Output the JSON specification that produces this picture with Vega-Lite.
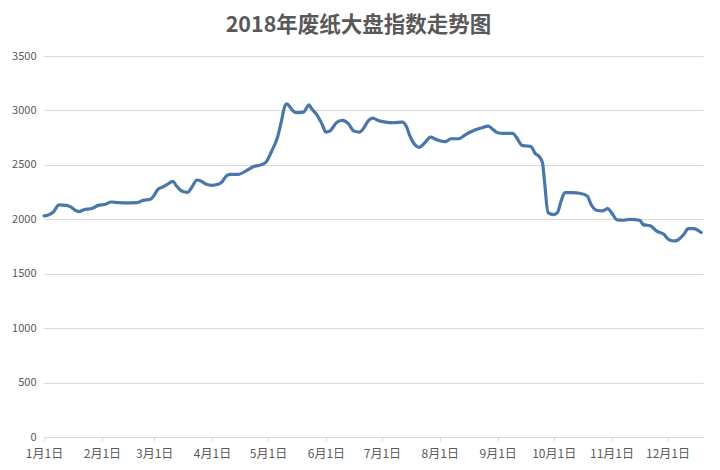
{
  "$schema": "https://vega.github.io/schema/vega-lite/v6.json",
  "width": 659,
  "height": 381,
  "autosize": {"type": "none"},
  "padding": {"left": 44, "top": 56, "right": 17, "bottom": 33},
  "background": "white",
  "title": {
    "text": "2018年废纸大盘指数走势图",
    "font": "Noto Sans CJK SC",
    "fontSize": 21.5,
    "fontWeight": "bold",
    "color": "#595959",
    "anchor": "middle",
    "dx": -15,
    "offset": 14
  },
  "config": {
    "view": {"stroke": null},
    "axis": {"labelFont": "Noto Sans CJK SC", "labelColor": "#595959", "gridColor": "#d9d9d9", "gridWidth": 1}
  },
  "data": {
    "values": [
      {"date": "2018-01-01", "index": 2031},
      {"date": "2018-01-03", "index": 2037},
      {"date": "2018-01-06", "index": 2067},
      {"date": "2018-01-09", "index": 2132},
      {"date": "2018-01-13", "index": 2128},
      {"date": "2018-01-15", "index": 2116},
      {"date": "2018-01-18", "index": 2080},
      {"date": "2018-01-20", "index": 2070},
      {"date": "2018-01-22", "index": 2086},
      {"date": "2018-01-27", "index": 2101},
      {"date": "2018-01-30", "index": 2128},
      {"date": "2018-02-03", "index": 2138},
      {"date": "2018-02-06", "index": 2159},
      {"date": "2018-02-10", "index": 2153},
      {"date": "2018-02-14", "index": 2150},
      {"date": "2018-02-20", "index": 2153},
      {"date": "2018-02-23", "index": 2174},
      {"date": "2018-02-27", "index": 2184},
      {"date": "2018-03-01", "index": 2220},
      {"date": "2018-03-03", "index": 2275},
      {"date": "2018-03-06", "index": 2300},
      {"date": "2018-03-08", "index": 2321},
      {"date": "2018-03-11", "index": 2349},
      {"date": "2018-03-13", "index": 2306},
      {"date": "2018-03-16", "index": 2257},
      {"date": "2018-03-19", "index": 2248},
      {"date": "2018-03-21", "index": 2290},
      {"date": "2018-03-24", "index": 2361},
      {"date": "2018-03-26", "index": 2352},
      {"date": "2018-03-29", "index": 2321},
      {"date": "2018-04-01", "index": 2312},
      {"date": "2018-04-04", "index": 2321},
      {"date": "2018-04-06", "index": 2337},
      {"date": "2018-04-09", "index": 2404},
      {"date": "2018-04-11", "index": 2413},
      {"date": "2018-04-15", "index": 2413},
      {"date": "2018-04-20", "index": 2453},
      {"date": "2018-04-23", "index": 2483},
      {"date": "2018-04-28", "index": 2505},
      {"date": "2018-04-30", "index": 2526},
      {"date": "2018-05-03", "index": 2627},
      {"date": "2018-05-05", "index": 2703},
      {"date": "2018-05-06", "index": 2749},
      {"date": "2018-05-08", "index": 2887},
      {"date": "2018-05-10", "index": 3040},
      {"date": "2018-05-11", "index": 3061},
      {"date": "2018-05-14", "index": 3003},
      {"date": "2018-05-16", "index": 2979},
      {"date": "2018-05-20", "index": 2985},
      {"date": "2018-05-23", "index": 3052},
      {"date": "2018-05-24", "index": 3025},
      {"date": "2018-05-27", "index": 2963},
      {"date": "2018-05-30", "index": 2872},
      {"date": "2018-06-01", "index": 2801},
      {"date": "2018-06-03", "index": 2810},
      {"date": "2018-06-07", "index": 2893},
      {"date": "2018-06-10", "index": 2908},
      {"date": "2018-06-13", "index": 2878},
      {"date": "2018-06-16", "index": 2810},
      {"date": "2018-06-19", "index": 2801},
      {"date": "2018-06-21", "index": 2832},
      {"date": "2018-06-24", "index": 2911},
      {"date": "2018-06-26", "index": 2930},
      {"date": "2018-06-29", "index": 2908},
      {"date": "2018-07-03", "index": 2893},
      {"date": "2018-07-07", "index": 2887},
      {"date": "2018-07-12", "index": 2893},
      {"date": "2018-07-14", "index": 2856},
      {"date": "2018-07-16", "index": 2765},
      {"date": "2018-07-19", "index": 2679},
      {"date": "2018-07-21", "index": 2661},
      {"date": "2018-07-24", "index": 2703},
      {"date": "2018-07-27", "index": 2755},
      {"date": "2018-07-30", "index": 2734},
      {"date": "2018-08-04", "index": 2713},
      {"date": "2018-08-07", "index": 2740},
      {"date": "2018-08-11", "index": 2740},
      {"date": "2018-08-15", "index": 2780},
      {"date": "2018-08-18", "index": 2807},
      {"date": "2018-08-23", "index": 2838},
      {"date": "2018-08-27", "index": 2856},
      {"date": "2018-08-29", "index": 2832},
      {"date": "2018-09-01", "index": 2795},
      {"date": "2018-09-04", "index": 2789},
      {"date": "2018-09-09", "index": 2789},
      {"date": "2018-09-11", "index": 2755},
      {"date": "2018-09-14", "index": 2679},
      {"date": "2018-09-17", "index": 2673},
      {"date": "2018-09-19", "index": 2667},
      {"date": "2018-09-21", "index": 2606},
      {"date": "2018-09-23", "index": 2581},
      {"date": "2018-09-25", "index": 2520},
      {"date": "2018-09-26", "index": 2367},
      {"date": "2018-09-28", "index": 2061},
      {"date": "2018-10-01", "index": 2043},
      {"date": "2018-10-03", "index": 2061},
      {"date": "2018-10-05", "index": 2168},
      {"date": "2018-10-07", "index": 2245},
      {"date": "2018-10-11", "index": 2245},
      {"date": "2018-10-15", "index": 2239},
      {"date": "2018-10-19", "index": 2214},
      {"date": "2018-10-21", "index": 2138},
      {"date": "2018-10-24", "index": 2083},
      {"date": "2018-10-27", "index": 2077},
      {"date": "2018-10-30", "index": 2098},
      {"date": "2018-11-01", "index": 2061},
      {"date": "2018-11-04", "index": 1994},
      {"date": "2018-11-07", "index": 1991},
      {"date": "2018-11-11", "index": 2000},
      {"date": "2018-11-16", "index": 1991},
      {"date": "2018-11-18", "index": 1951},
      {"date": "2018-11-22", "index": 1939},
      {"date": "2018-11-25", "index": 1893},
      {"date": "2018-11-29", "index": 1862},
      {"date": "2018-12-02", "index": 1810},
      {"date": "2018-12-05", "index": 1801},
      {"date": "2018-12-07", "index": 1816},
      {"date": "2018-12-10", "index": 1868},
      {"date": "2018-12-12", "index": 1914},
      {"date": "2018-12-15", "index": 1914},
      {"date": "2018-12-19", "index": 1878}
    ]
  },
  "mark": {"type": "line", "color": "#4a77aa", "strokeWidth": 3.2, "interpolate": "monotone", "strokeCap": "round", "strokeJoin": "round"},
  "encoding": {
    "x": {
      "field": "date",
      "type": "temporal",
      "scale": {"type": "utc", "domain": ["2018-01-01", "2018-12-20"]},
      "axis": {
        "title": null,
        "format": "%-m月%-d日",
        "values": ["2018-01-01","2018-02-01","2018-03-01","2018-04-01","2018-05-01","2018-06-01","2018-07-01","2018-08-01","2018-09-01","2018-10-01","2018-11-01","2018-12-01"],
        "grid": false,
        "domainColor": "#d9d9d9",
        "tickColor": "#d9d9d9",
        "tickSize": 4,
        "labelFontSize": 12,
        "labelPadding": 7,
        "labelFlush": false
      }
    },
    "y": {
      "field": "index",
      "type": "quantitative",
      "scale": {"domain": [0, 3500]},
      "axis": {
        "title": null,
        "format": "d",
        "values": [0, 500, 1000, 1500, 2000, 2500, 3000, 3500],
        "domain": false,
        "ticks": false,
        "labelFontSize": 11,
        "labelPadding": 8
      }
    }
  }
}
